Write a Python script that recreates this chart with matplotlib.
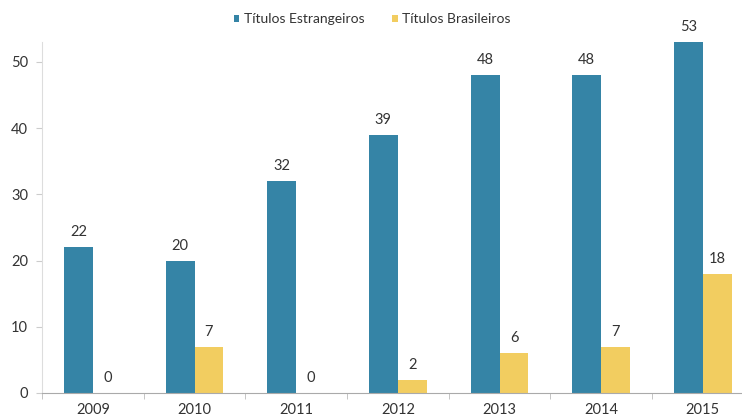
import numpy as np
import matplotlib.pyplot as plt

anos = ['2009', '2010', '2011', '2012', '2013', '2014', '2015']
estrangeiros = [22, 20, 32, 39, 48, 48, 53]
brasileiros = [0, 7, 0, 2, 6, 7, 18]

azul = '#3584A6'
amarelo = '#F2CD60'
texto = '#333333'

plt.rcParams['font.family'] = ['Lato', 'DejaVu Sans']

fig = plt.figure(figsize=(7.42, 4.17), dpi=100)
ax = fig.add_axes([42 / 742, 24 / 417, 700 / 742, 351 / 417])

x = np.arange(len(anos))
w = 0.285
b1 = ax.bar(x - w / 2, estrangeiros, w, color=azul, label='Títulos Estrangeiros')
b2 = ax.bar(x + w / 2, brasileiros, w, color=amarelo, label='Títulos Brasileiros')

for bars, vals in [(b1, estrangeiros), (b2, brasileiros)]:
    for r, v in zip(bars, vals):
        ax.text(r.get_x() + r.get_width() / 2, v + 1.2, str(v),
                ha='center', va='bottom', fontsize=10.5, color=texto)

ax.set_xlim(-0.5, 6.385)
ax.set_ylim(0, 53)
ax.set_yticks([0, 10, 20, 30, 40, 50])
ax.set_xticks(x)
ax.set_xticklabels(anos)
ax.set_xticks(np.arange(-0.5, 6.5, 1), minor=True)
ax.tick_params(axis='x', which='major', length=0, labelsize=10.5, colors=texto, pad=7)
ax.tick_params(axis='x', which='minor', length=4, color='#bbbbbb')
ax.tick_params(axis='y', length=4, color='#cccccc', labelsize=10.5, labelcolor=texto, pad=6)

for s in ['top', 'right']:
    ax.spines[s].set_visible(False)
ax.spines['left'].set_color('#dddddd')
ax.spines['bottom'].set_color('#aaaaaa')

fig.legend(handles=[b1, b2], loc='center', bbox_to_anchor=(372 / 742, 1 - 19 / 417),
           ncol=2, frameon=False, fontsize=10, handlelength=0.4, handleheight=0.4,
           handletextpad=0.3, columnspacing=2.0, labelcolor=texto)

fig.savefig('out.png', dpi=100)
